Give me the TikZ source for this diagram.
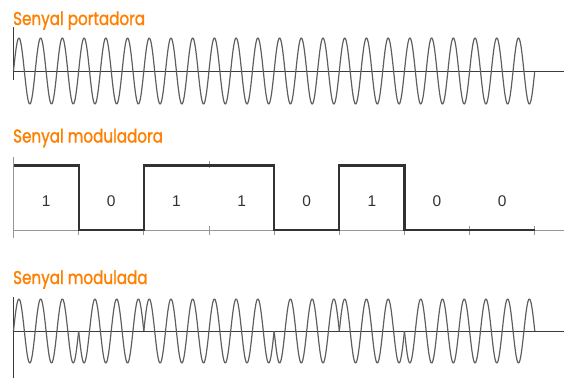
\documentclass[tikz,border=0pt]{standalone}
\usepackage{fontspec}
\setmainfont{Liberation Sans}
\newfontfamily\titlefont[FakeStretch=0.82,FakeBold=1.3]{Poppins}
\definecolor{orangeT}{RGB}{255,128,0}
\definecolor{waveC}{RGB}{95,95,95}
\definecolor{axisC}{RGB}{60,60,60}
\definecolor{sigC}{RGB}{50,50,50}
\definecolor{gridC}{RGB}{150,150,150}
\begin{document}
\begin{tikzpicture}[x=1pt,y=-1pt,
  title/.style={anchor=base west,inner sep=0pt,text=orangeT,font=\titlefont\fontsize{18.5}{20}\selectfont},
  wave/.style={draw=waveC,line width=1.2pt,line join=round},
  axisline/.style={draw=axisC,line width=0.9pt},
  gridline/.style={draw=gridC,line width=0.9pt},
  sigline/.style={draw=sigC,line width=2.2pt,line join=miter},
  bitlabel/.style={text=sigC,font=\fontsize{15.5}{17}\selectfont,inner sep=0pt}]
\useasboundingbox (0,0) rectangle (565,378);
\pgfmathsetmacro{\ox}{13.5}
\pgfmathsetmacro{\P}{21.72}
\pgfmathsetmacro{\B}{65.16}
% titles
\node[title] (t1) at (13,25) {Senyal portadora};
\node[title] (t2) at (13,142.5) {Senyal moduladora};
\node[title] (t3) at (13,284) {Senyal modulada};
% ---- carrier
\coordinate (c0) at (13,71);
\coordinate (c1) at (564,71);
\coordinate (cv0) at (13,27);
\coordinate (cv1) at (13,80);
\draw[axisline] (c0) -- (c1);
\draw[axisline] (cv0) -- (cv1);
\draw[wave] plot[domain=0:24,samples=961] ({\ox+\P*\x},{71-33*sin(360*\x)});
% ---- modulating
\coordinate (m0) at (13,230);
\coordinate (m1) at (564,230);
\coordinate (mv0) at (13,157);
\coordinate (mv1) at (13,238);
\draw[gridline] (m0) -- (m1);
\draw[gridline] (mv0) -- (mv1);
\foreach \k in {1,...,8}{
  \draw[gridline] ({\ox+\B*\k},226) -- ({\ox+\B*\k},235);
}
\draw[gridline] ({\ox+\B*3},161) -- ({\ox+\B*3},168);
\draw[sigline] (\ox,165.5) -- ({\ox+\B},165.5) -- ({\ox+\B},230) -- ({\ox+2*\B},230)
  -- ({\ox+2*\B},165.5) -- ({\ox+4*\B},165.5) -- ({\ox+4*\B},230) -- ({\ox+5*\B},230)
  -- ({\ox+5*\B},165.5) -- ({\ox+6*\B},165.5) -- ({\ox+6*\B},230) -- ({\ox+8*\B},230);
\foreach \b [count=\i from 0] in {1,0,1,1,0,1,0,0}{
  \node[bitlabel] (b\i) at ({\ox+\B*(\i+0.5)},201) {\b};
}
% ---- modulated
\coordinate (d0) at (13,331);
\coordinate (d1) at (564,331);
\coordinate (dv0) at (13,297);
\coordinate (dv1) at (13,378);
\draw[axisline] (d0) -- (d1);
\draw[axisline] (dv0) -- (dv1);
\foreach \s [count=\i from 0] in {1,-1,1,1,-1,1,-1,-1}{
  \draw[wave] plot[domain={3*\i}:{3*\i+3},samples=121] ({\ox+\P*\x},{331-32*\s*sin(360*\x)});
}
\end{tikzpicture}
\end{document}
